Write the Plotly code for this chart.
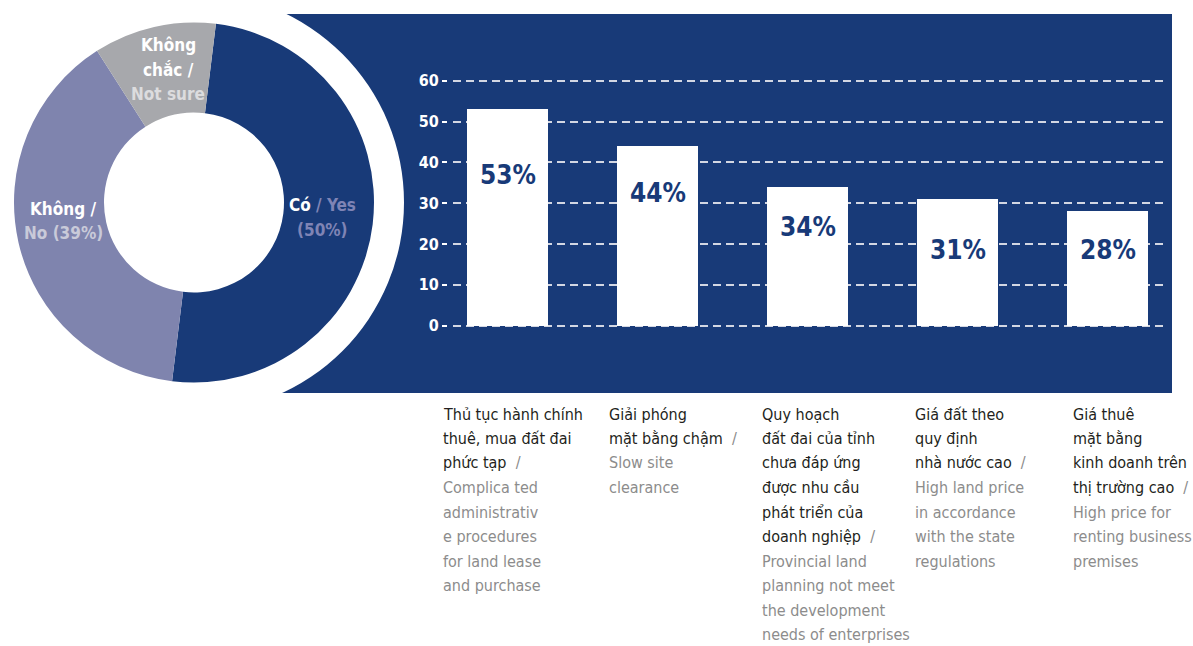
import plotly.graph_objects as go

# ---- data -------------------------------------------------------------
donut_labels = ["Có / Yes", "Không / No", "Không chắc / Not sure"]
donut_values = [50, 39, 11]

bar_values = [53, 44, 34, 31, 28]
cat_vn = [
    "Thủ tục hành chính<br>thuê, mua đất đai<br>phức tạp",
    "Giải phóng<br>mặt bằng chậm",
    "Quy hoạch<br>đất đai của tỉnh<br>chưa đáp ứng<br>được nhu cầu<br>phát triển của<br>doanh nghiệp",
    "Giá đất theo<br>quy định<br>nhà nước cao",
    "Giá thuê<br>mặt bằng<br>kinh doanh trên<br>thị trường cao",
]
cat_en = [
    "Complica ted<br>administrativ<br>e procedures<br>for land lease<br>and purchase",
    "Slow site<br>clearance",
    "Provincial land<br>planning not meet<br>the development<br>needs of enterprises",
    "High land price<br>in accordance<br>with the state<br>regulations",
    "High price for<br>renting business<br>premises",
]
y_ticks = [0, 10, 20, 30, 40, 50, 60]

# ---- styling ----------------------------------------------------------
W, H = 1193, 646
NAVY = "#183A78"
LAVENDER = "#7F84AE"
GREY = "#A7A8AC"
FONT = "Liberation Sans Narrow, DejaVu Sans Condensed, Arial Narrow, sans-serif"
CAPTION_GREY = "#8C8C8C"


def px(x):
    return x / W


def py(y):
    return 1 - y / H


cx, cy, R = 194, 202.5, 180   # donut centre / outer radius (pixels)
RING = 210                    # white ring around the donut

fig = go.Figure()

fig.add_trace(go.Pie(
    labels=donut_labels,
    values=donut_values,
    hole=0.5,
    sort=False,
    direction="clockwise",
    rotation=7,
    textinfo="none",
    hoverinfo="label+percent",
    marker=dict(colors=[NAVY, LAVENDER, GREY], line=dict(width=0)),
    domain=dict(x=[px(cx - R), px(cx + R)], y=[py(cy + R), py(cy - R)]),
    showlegend=False,
))

x_idx = list(range(len(bar_values)))
fig.add_trace(go.Bar(
    x=x_idx,
    y=bar_values,
    width=0.535,
    marker=dict(color="white", line=dict(width=0)),
    hoverinfo="y",
    showlegend=False,
))

annotations = []


def add_lines(lines, x, y_first, pitch, xanchor, size, color, bold=False):
    """Place a block of text one line at a time with a fixed line pitch."""
    for k, line in enumerate(lines):
        t = f"<b>{line}</b>" if bold else line
        annotations.append(dict(
            x=px(x), xref="paper", y=py(y_first + k * pitch), yref="paper",
            text=t, showarrow=False, xanchor=xanchor, yanchor="middle",
            align=xanchor if xanchor != "center" else "center", borderpad=0,
            font=dict(family=FONT, size=size, color=color),
        ))


# bar value labels
label_px_y = [175, 193, 227, 250, 250]
for i, v in enumerate(bar_values):
    annotations.append(dict(
        x=i, xref="x", y=py(label_px_y[i]), yref="paper",
        text=f"<b>{v}%</b>", showarrow=False,
        font=dict(family=FONT, size=26, color=NAVY),
        xanchor="center", yanchor="middle",
    ))

# category captions below the panel
cat_left = [442, 608, 761, 914, 1072]
for i in range(len(cat_vn)):
    vn = cat_vn[i].split("<br>")
    vn[-1] = vn[-1] + f"  <span style='color:{CAPTION_GREY}'>/</span>"
    en = [f"<span style='color:{CAPTION_GREY}'>{s}</span>"
          for s in cat_en[i].split("<br>")]
    add_lines(vn + en, cat_left[i], 414, 24.5, "left", 16, "#231F20")

# donut slice captions
add_lines(["Có <span style='color:#7F84B5'>/ Yes</span>",
           "<span style='color:#7F84B5'>(50%)</span>"],
          322, 205, 25, "center", 17, "white", bold=True)
add_lines(["Không /", "<span style='color:#C9CAD9'>No (39%)</span>"],
          63, 209, 24.5, "center", 17, "white", bold=True)
add_lines(["Không", "chắc /", "<span style='color:#DCDCDE'>Not sure</span>"],
          168, 45, 24.5, "center", 17, "white", bold=True)

shapes = [
    # navy panel
    dict(type="rect", xref="paper", yref="paper", layer="below",
         x0=px(230), x1=px(1172), y0=py(393), y1=py(14),
         fillcolor=NAVY, line=dict(width=0)),
    # white ring separating the donut from the panel
    dict(type="circle", xref="paper", yref="paper", layer="below",
         x0=px(cx - RING), x1=px(cx + RING), y0=py(cy + RING), y1=py(cy - RING),
         fillcolor="white", line=dict(width=0)),
]

# axis geometry: value 0 at y=325.7px, 60 at y=80.7px; bars 150px apart
y_top_px, y_bot_px = 70, 340
ppu = (325.7 - 80.7) / 60
y_range = [(325.7 - y_bot_px) / ppu, (325.7 - y_top_px) / ppu]
x0_px, x1_px = 453, 1166
first_c, step = 507.5, 150
x_range = [(x0_px - first_c) / step, (x1_px - first_c) / step]

fig.update_layout(
    width=W, height=H,
    margin=dict(l=0, r=0, t=0, b=0),
    paper_bgcolor="white",
    plot_bgcolor="rgba(0,0,0,0)",
    shapes=shapes,
    annotations=annotations,
    bargap=0,
    xaxis=dict(
        domain=[px(x0_px), px(x1_px)],
        range=x_range,
        showgrid=False, zeroline=False, showticklabels=False,
        showline=False, ticks="", fixedrange=True,
    ),
    yaxis=dict(
        domain=[py(y_bot_px), py(y_top_px)],
        range=y_range,
        anchor="free", position=px(447),
        tickvals=y_ticks,
        ticktext=[f"<b>{t}</b>" for t in y_ticks],
        ticks="outside", ticklen=5, tickwidth=2, tickcolor="white",
        tickfont=dict(family=FONT, size=16, color="white"),
        showgrid=True, gridcolor="#D3D7E3", gridwidth=2, griddash="8px,5px",
        zeroline=False, showline=False, fixedrange=True,
    ),
)

fig.write_html("out.html")
